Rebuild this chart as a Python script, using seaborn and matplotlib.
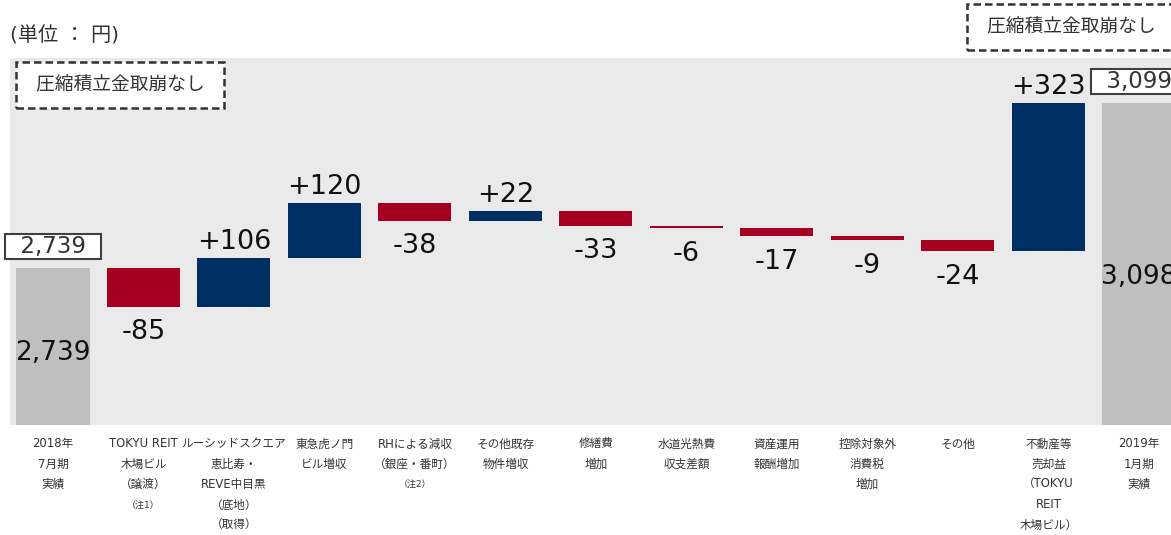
import numpy as np
import pandas as pd
import matplotlib
matplotlib.use("Agg")
import matplotlib.pyplot as plt
import seaborn as sns

# ---------------- data ----------------
categories = [
    ["2018年", "7月期", "実績"],
    ["TOKYU REIT", "木場ビル", "（譲渡）", "（注1）"],
    ["ルーシッドスクエア", "恵比寿・", "REVE中目黒", "（底地）", "（取得）", "（注1）"],
    ["東急虎ノ門", "ビル増収"],
    ["RHによる減収", "（銀座・番町）", "（注2）"],
    ["その他既存", "物件増収"],
    ["修繕費", "増加"],
    ["水道光熱費", "収支差額"],
    ["資産運用", "報酬増加"],
    ["控除対象外", "消費税", "増加"],
    ["その他"],
    ["不動産等", "売却益", "（TOKYU", "REIT", "木場ビル）"],
    ["2019年", "1月期", "実績"],
]
start_value = 2739
end_value = 3099
deltas = [-85, 106, 120, -38, 22, -33, -6, -17, -9, -24, 323]
delta_labels = ["-85", "+106", "+120", "-38", "+22", "-33", "-6", "-17", "-9", "-24", "+323"]
total_inner_labels = ["2,739", "3,098"]
total_box_labels = ["2,739", "3,099"]
y_range = (2396, 3197)
unit_text = "(単位 ： 円)"
note_text = "圧縮積立金取崩なし"

# ---------------- style ----------------
sns.set_theme(style="white")
plt.rcParams["font.family"] = ["DejaVu Sans", "Noto Sans CJK JP"]

C_TOTAL = "#BFBFBF"
C_UP = "#003063"
C_DOWN = "#A50021"
C_PANEL = "#EAEAEA"
C_TEXT = "#111111"
C_LABEL = "#333333"

# ---------------- waterfall geometry from data ----------------
n = len(deltas) + 2
heights, bases, kinds = [start_value], [0], ["total"]
level = start_value
for d in deltas:
    new = level + d
    bases.append(min(level, new))
    heights.append(abs(d))
    kinds.append("up" if d > 0 else "down")
    level = new
heights.append(end_value)
bases.append(0)
kinds.append("total")

df = pd.DataFrame({"pos": np.arange(n), "height": heights, "kind": kinds})

fig = plt.figure(figsize=(11.71, 5.35), dpi=100)
ax = fig.add_axes([10 / 1171, 110 / 535, 1161 / 1171, 367 / 535])
ax.set_facecolor(C_PANEL)

sns.barplot(data=df, x="pos", y="height", hue="kind",
            palette={"total": C_TOTAL, "up": C_UP, "down": C_DOWN},
            dodge=False, width=0.807, saturation=1, errorbar=None,
            linewidth=0, legend=False, ax=ax)

for p in ax.patches:
    idx = int(round(p.get_x() + p.get_width() / 2))
    p.set_y(bases[idx])

ax.set_xlim(-0.475, 12.354)
ax.set_ylim(*y_range)
ax.set_xticks([])
ax.set_yticks([])
ax.set_xlabel("")
ax.set_ylabel("")
for s in ax.spines.values():
    s.set_visible(False)

# ---------------- value labels ----------------
for k, (d, lab) in enumerate(zip(deltas, delta_labels)):
    i = k + 1
    if d > 0:
        ax.annotate(lab, xy=(i, bases[i] + heights[i]), xytext=(0, 6.5),
                    textcoords="offset points", ha="center", va="baseline",
                    fontsize=19.5, color=C_TEXT)
    else:
        ax.annotate(lab, xy=(i, bases[i]), xytext=(0, -9),
                    textcoords="offset points", ha="center", va="top",
                    fontsize=19.5, color=C_TEXT)

total_idx = [0, n - 1]
total_vals = [start_value, end_value]
for i, v, inner, boxed in zip(total_idx, total_vals, total_inner_labels, total_box_labels):
    ax.annotate(inner, xy=(i, v - 0.54 * (v - y_range[0])), ha="center", va="center",
                fontsize=19, color=C_TEXT, annotation_clip=False)
    ax.annotate("  " + boxed + "  ", xy=(i, v), xytext=(0, 7), textcoords="offset points",
                ha="center", va="bottom", fontsize=16.5, color="#333333",
                annotation_clip=False,
                bbox=dict(boxstyle="square,pad=0.04", fc="white", ec="#404040", lw=1.5))

# ---------------- category labels ----------------
for i, lines in enumerate(categories):
    for j, line in enumerate(lines):
        is_note = line.startswith("（注")
        ax.annotate(line, xy=(i, 0), xycoords=("data", "axes fraction"),
                    xytext=(0, -(19 + 20.3 * j) / 1.389), textcoords="offset points",
                    ha="center", va="center", fontsize=6.5 if is_note else 8.4,
                    color=C_LABEL, annotation_clip=False)

# ---------------- header texts ----------------
fig.text(10 / 1171, 1 - 36 / 535, unit_text, ha="left", va="center",
         fontsize=14.5, color=C_LABEL)

dash_box = dict(boxstyle="square,pad=0.72", fc="white", ec="#333333", lw=1.8,
                ls=(0, (3, 1.6)))
fig.text(120 / 1171, 1 - 85 / 535, " " + note_text + " ", ha="center", va="center",
         fontsize=13.5, color=C_LABEL, bbox=dash_box)
fig.text(1071 / 1171, 1 - 27 / 535, " " + note_text + " ", ha="center", va="center",
         fontsize=13.5, color=C_LABEL, bbox=dash_box)

fig.savefig("out.png", dpi=100)
